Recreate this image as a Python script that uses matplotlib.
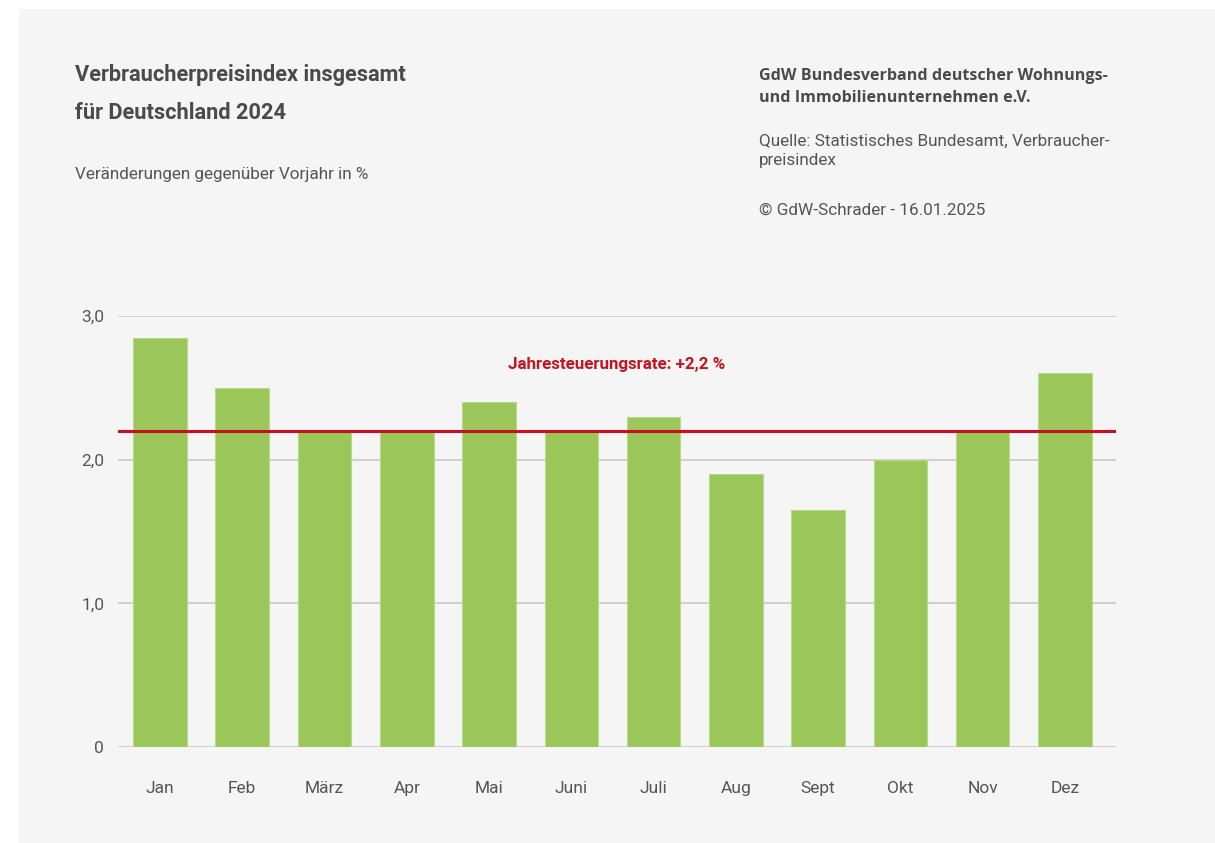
import matplotlib.pyplot as plt
from matplotlib.patches import Rectangle

plt.rcParams['font.family'] = ['Roboto', 'DejaVu Sans']

monate = ["Jan", "Feb", "März", "Apr", "Mai", "Juni", "Juli", "Aug", "Sept", "Okt", "Nov", "Dez"]
werte = [2.85, 2.5, 2.2, 2.2, 2.4, 2.2, 2.3, 1.9, 1.65, 2.0, 2.2, 2.6]
jahresrate = 2.2
y_ticks = [0, 1.0, 2.0, 3.0]
y_labels = ["0", "1,0", "2,0", "3,0"]

W, H = 1215, 843
bar_col = "#9bc65a"
red = "#c8101e"
txt = "#555555"
dark = "#4a4a4a"

fig = plt.figure(figsize=(W / 100, H / 100), dpi=100)
fig.patch.set_facecolor("white")
fig.patches.append(Rectangle((19 / W, 0), 1 - 19 / W, 1 - 9 / H, transform=fig.transFigure,
                             facecolor="#f5f5f5", edgecolor="none", zorder=-10))

def fx(px):
    return px / W

def fy(py):
    return 1 - py / H

ax = fig.add_axes([fx(118), fy(747), fx(1116) - fx(118), fy(316) - fy(747)])
ax.set_facecolor("none")

x = list(range(len(monate)))
ax.bar(x, werte, width=0.65, color=bar_col, edgecolor="#b9da8a", linewidth=0.8, zorder=2)
ax.axhline(jahresrate, color=red, lw=2.2, zorder=3)
ax.text(5.55, 2.66, "Jahresteuerungsrate: +2,2 %", color=red, fontsize=12.2,
        fontweight="bold", ha="center", va="center")

ax.set_ylim(0, 3.0)
ax.set_xlim(-0.51, 11.62)
ax.set_yticks(y_ticks)
ax.set_yticklabels(y_labels)
ax.set_xticks(x)
ax.set_xticklabels(monate)
ax.yaxis.grid(True, color="#c8c8c8", lw=1.2, zorder=0)
ax.set_axisbelow(True)
for s in ax.spines.values():
    s.set_visible(False)
ax.tick_params(axis="both", length=0, labelsize=12.5, labelcolor=txt)
ax.tick_params(axis="y", pad=10)
ax.tick_params(axis="x", pad=24.5)

fig.text(fx(75), fy(75), "Verbraucherpreisindex insgesamt", fontsize=15.7, fontweight="bold",
         color=dark, va="center")
fig.text(fx(75), fy(113), "für Deutschland 2024", fontsize=15.7, fontweight="bold",
         color=dark, va="center")
fig.text(fx(75), fy(175), "Veränderungen gegenüber Vorjahr in %", fontsize=12.3,
         color=txt, va="center")

kopf = dict(fontsize=11.6, fontweight="bold", color=dark, va="center",
            family=["Open Sans", "DejaVu Sans"])
fig.text(fx(759), fy(76), "GdW Bundesverband deutscher Wohnungs-", **kopf)
fig.text(fx(759), fy(98), "und Immobilienunternehmen e.V.", **kopf)
fig.text(fx(759), fy(141), "Quelle: Statistisches Bundesamt, Verbraucher-", fontsize=12.3,
         color=txt, va="center")
fig.text(fx(759), fy(161), "preisindex", fontsize=12.3, color=txt, va="center")
fig.text(fx(759), fy(210), "© GdW-Schrader - 16.01.2025", fontsize=12.3, color=txt, va="center")

fig.savefig("out.png", dpi=100, facecolor=fig.get_facecolor())
